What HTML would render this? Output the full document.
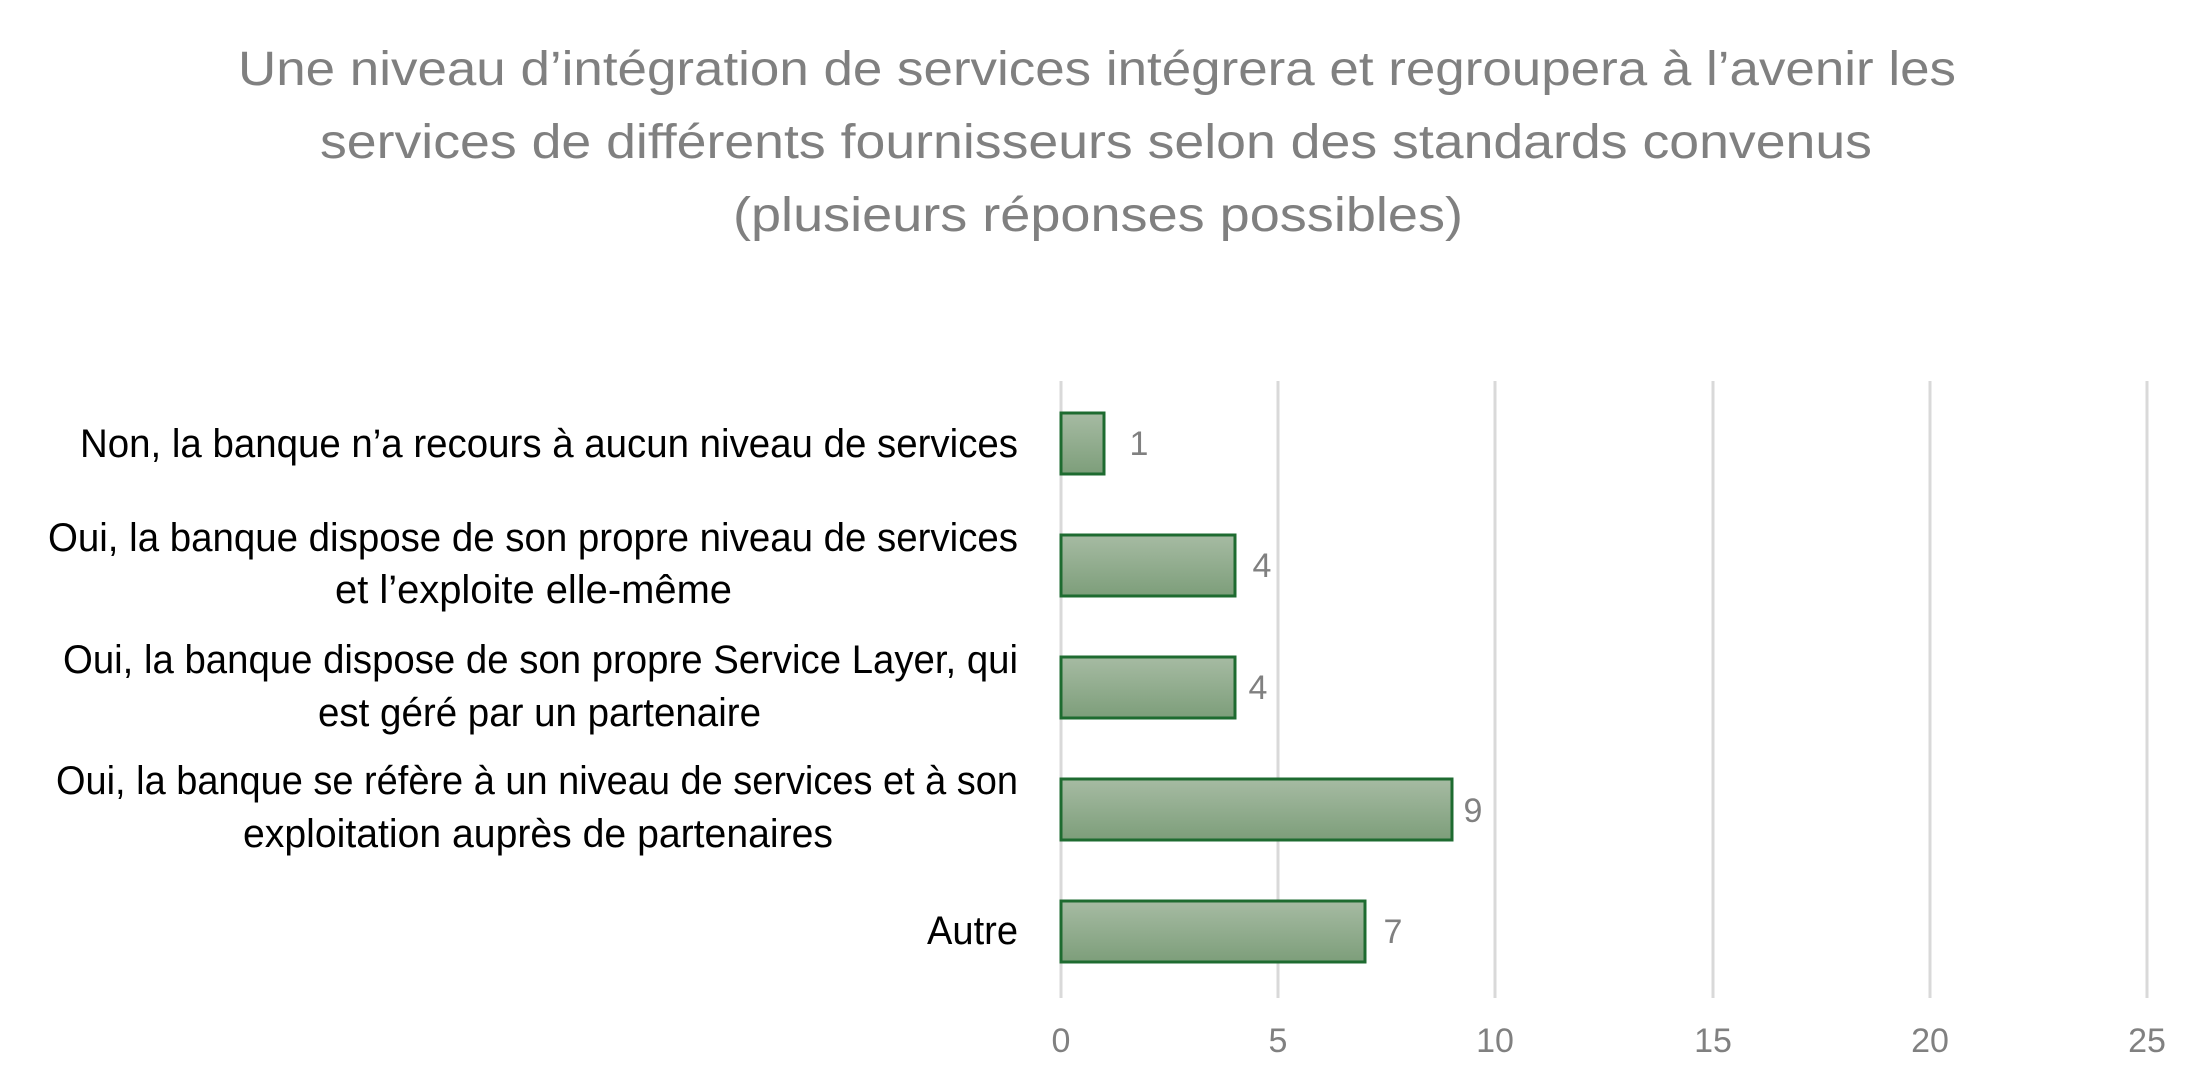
<!DOCTYPE html>
<html><head><meta charset="utf-8"><style>html,body{margin:0;padding:0;background:#fff}svg{display:block}</style></head>
<body>
<svg width="2199" height="1092" viewBox="0 0 2199 1092" xmlns="http://www.w3.org/2000/svg">
<defs>
<linearGradient id="g" x1="0" y1="0" x2="0" y2="1"><stop offset="0" stop-color="#a6bba3"/><stop offset="1" stop-color="#7d9e7a"/></linearGradient>
</defs>
<g font-family="Liberation Sans, sans-serif" fill="#808080" font-size="48" text-anchor="middle">
<text x="1097" y="85" textLength="1718" lengthAdjust="spacingAndGlyphs">Une niveau d’intégration de services intégrera et regroupera à l’avenir les</text>
<text x="1096" y="158" textLength="1552" lengthAdjust="spacingAndGlyphs">services de différents fournisseurs selon des standards convenus</text>
<text x="1098" y="231" textLength="730" lengthAdjust="spacingAndGlyphs">(plusieurs réponses possibles)</text>
</g>
<g stroke="#d9d9d9" stroke-width="3">
<line x1="1061" y1="381" x2="1061" y2="998"/>
<line x1="1278" y1="381" x2="1278" y2="998"/>
<line x1="1495" y1="381" x2="1495" y2="998"/>
<line x1="1713" y1="381" x2="1713" y2="998"/>
<line x1="1930" y1="381" x2="1930" y2="998"/>
<line x1="2147" y1="381" x2="2147" y2="998"/>
</g>
<g fill="url(#g)" stroke="#1e6b30" stroke-width="3">
<rect x="1061" y="413" width="43" height="61"/>
<rect x="1061" y="535" width="174" height="61"/>
<rect x="1061" y="657" width="174" height="61"/>
<rect x="1061" y="779" width="391" height="61"/>
<rect x="1061" y="901" width="304" height="61"/>
</g>
<g font-family="Liberation Sans, sans-serif" fill="#808080" font-size="34" text-anchor="middle">
<text x="1139" y="455">1</text>
<text x="1262" y="577">4</text>
<text x="1258" y="699">4</text>
<text x="1473" y="822">9</text>
<text x="1393" y="943">7</text>
<text x="1061" y="1052">0</text>
<text x="1278" y="1052">5</text>
<text x="1495" y="1052">10</text>
<text x="1713" y="1052">15</text>
<text x="1930" y="1052">20</text>
<text x="2147" y="1052">25</text>
</g>
<g font-family="Liberation Sans, sans-serif" fill="#000" font-size="40">
<text x="80" y="457" textLength="938" lengthAdjust="spacingAndGlyphs">Non, la banque n’a recours à aucun niveau de services</text>
<text x="48" y="551" textLength="970" lengthAdjust="spacingAndGlyphs">Oui, la banque dispose de son propre niveau de services</text>
<text x="335" y="603" textLength="397" lengthAdjust="spacingAndGlyphs">et l’exploite elle-même</text>
<text x="63" y="673" textLength="955" lengthAdjust="spacingAndGlyphs">Oui, la banque dispose de son propre Service Layer, qui</text>
<text x="318" y="726" textLength="443" lengthAdjust="spacingAndGlyphs">est géré par un partenaire</text>
<text x="56" y="794" textLength="962" lengthAdjust="spacingAndGlyphs">Oui, la banque se réfère à un niveau de services et à son</text>
<text x="243" y="847" textLength="590" lengthAdjust="spacingAndGlyphs">exploitation auprès de partenaires</text>
<text x="927" y="944" textLength="91" lengthAdjust="spacingAndGlyphs">Autre</text>
</g>
</svg>
</body></html>
